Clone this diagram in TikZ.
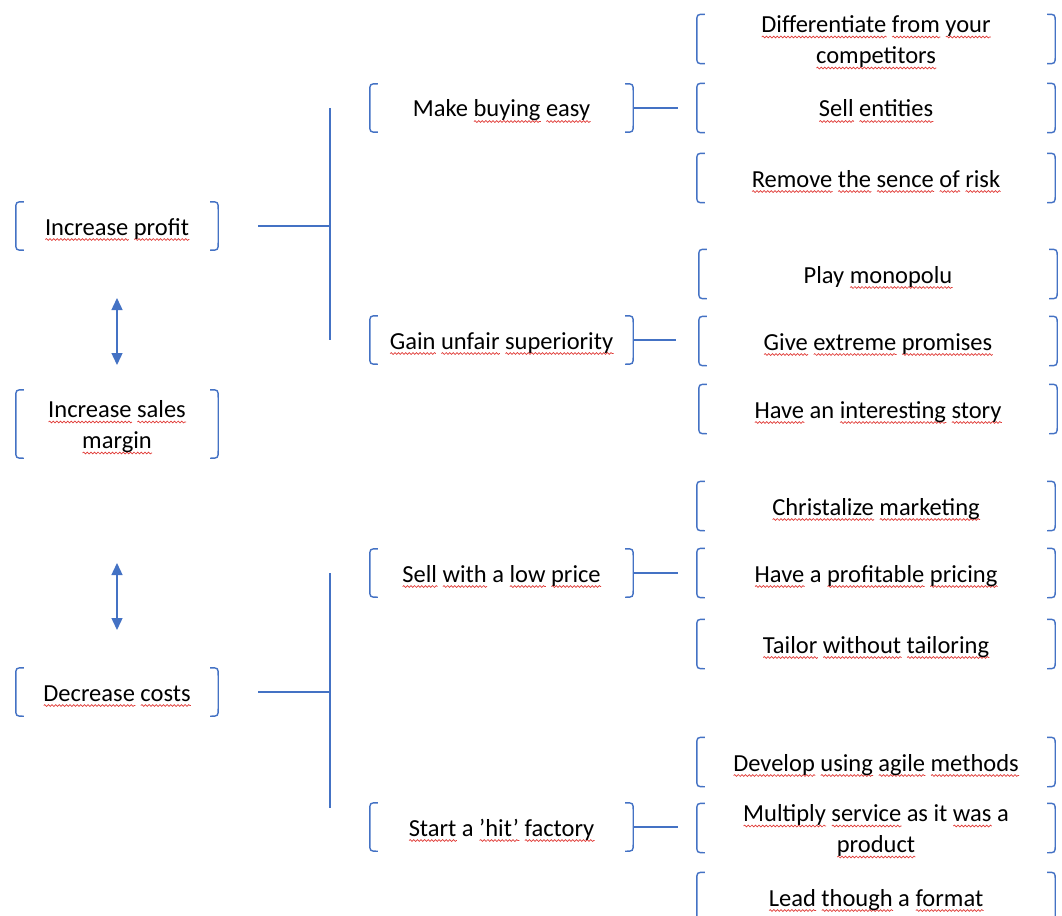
\documentclass[tikz,border=0pt]{standalone}
\usepackage{fontspec}
\setmainfont{Carlito}
\usetikzlibrary{arrows.meta,decorations.pathmorphing}
\definecolor{acc}{HTML}{4472C4}
\definecolor{sqred}{HTML}{E03A36}

% red wavy underline under a single word (spell-check squiggle)
\newsavebox\sqbox
\newlength\sqlen
\newcommand\sq[1]{%
  \sbox\sqbox{#1}\setlength\sqlen{\wd\sqbox}%
  \rlap{\raisebox{-4.5pt}{\tikz[baseline=0pt]\draw[sqred,line width=0.7pt,decorate,
      decoration={snake,amplitude=0.9pt,segment length=3.6pt}] (0pt,0pt)--(\sqlen,0pt);}}%
  \usebox\sqbox}

% fixed line strut so every label sits at the same height inside its brackets
\newcommand\linestrut{\rule[-6pt]{0pt}{30pt}}
% two centred lines, measured as if they were a single line of text
\newcommand\twolines[2]{%
  \raisebox{-15.5pt}[24pt][6pt]{\vbox{\baselineskip=31pt\lineskiplimit=-100pt
    \halign{\hfil##\hfil\cr #1\cr #2\cr}}}}

\tikzset{
  ln/.style={draw=acc, line width=1.3pt},
  brk/.style={draw=acc, line width=1.4pt},
  arr/.style={draw=acc, line width=1.4pt,
    {Triangle[length=12pt,width=11pt]}-{Triangle[length=12pt,width=11pt]}},
  itembox/.style={inner sep=0pt, align=center, minimum height=48pt,
    font=\fontsize{24.5}{31}\selectfont, text=black,
    execute at begin node=\linestrut, execute at end node=\linestrut},
  lvA/.style={itembox, minimum width=202pt},
  lvB/.style={itembox, minimum width=263pt},
  lvC/.style={itembox, minimum width=358pt, minimum height=49pt},
}

\begin{document}
\begin{tikzpicture}[x=1pt,y=-1pt]
\useasboundingbox (0,0) rectangle (1062,915);
\clip (0,0) rectangle (1062,915);

% first level
\node[lvA] (p1) at (117,226) {\sq{Increase} \sq{profit}};
\node[lvA, minimum height=68pt] (p2) at (117,424) {\twolines{\sq{Increase} \sq{sales}}{\sq{margin}}};
\node[lvA] (p3) at (117,692) {\sq{Decrease} \sq{costs}};

% second level
\node[lvB] (m1) at (501.5,108) {Make \sq{buying} \sq{easy}};
\node[lvB] (m2) at (501.5,340) {\sq{Gain} \sq{unfair} \sq{superiority}};
\node[lvB] (m3) at (501.5,573) {\sq{Sell} \sq{with} a \sq{low} \sq{price}};
\node[lvB] (m4) at (501.5,827) {\sq{Start} a \sq{’hit’} \sq{factory}};

% third level
\node[lvC] (c1)  at (876,39)  {\twolines{\sq{Differentiate} \sq{from} \sq{your}}{\sq{competitors}}};
\node[lvC] (c2)  at (876,108) {\sq{Sell} \sq{entities}};
\node[lvC] (c3)  at (876,178) {\sq{Remove} \sq{the} \sq{sence} \sq{of} \sq{risk}};
\node[lvC] (c4)  at (878,274) {Play \sq{monopolu}};
\node[lvC] (c5)  at (878,341) {\sq{Give} \sq{extreme} \sq{promises}};
\node[lvC] (c6)  at (878,409) {\sq{Have} an \sq{interesting} \sq{story}};
\node[lvC] (c7)  at (876,506) {\sq{Christalize} \sq{marketing}};
\node[lvC] (c8)  at (876,573) {\sq{Have} a \sq{profitable} \sq{pricing}};
\node[lvC] (c9)  at (876,644) {\sq{Tailor} \sq{without} \sq{tailoring}};
\node[lvC] (c10) at (876,762) {\sq{Develop} \sq{using} \sq{agile} \sq{methods}};
\node[lvC] (c11) at (876,828) {\twolines{\sq{Multiply} \sq{service} as it \sq{was} a}{\sq{product}}};
\node[lvC] (c12) at (876,897) {\sq{Lead} \sq{though} a \sq{format}};

% bracket pairs around every item
\foreach \n in {p1,p2,p3,m1,m2,m3,m4,c1,c2,c3,c4,c5,c6,c7,c8,c9,c10,c11,c12}{
  \draw[brk] ([xshift=8pt]\n.north west) .. controls (\n.north west) .. ([yshift=-8pt]\n.north west)
    -- ([yshift=8pt]\n.south west) .. controls (\n.south west) .. ([xshift=8pt]\n.south west);
  \draw[brk] ([xshift=-8pt]\n.north east) .. controls (\n.north east) .. ([yshift=-8pt]\n.north east)
    -- ([yshift=8pt]\n.south east) .. controls (\n.south east) .. ([xshift=-8pt]\n.south east);
}

% two-headed arrows between the first-level items
\coordinate (a1t) at (117,298);
\coordinate (a1b) at (117,365);
\coordinate (a2t) at (117,563);
\coordinate (a2b) at (117,630);
\draw[arr] (a1t) -- (a1b);
\draw[arr] (a2t) -- (a2b);

% branching from the first level to the second
\coordinate (j1) at (330,226);
\coordinate (j2) at (330,692);
\coordinate (v2) at (330,808);
\draw[ln] ([xshift=40pt]p1.east) -- (j1);
\draw[ln] (j1 |- m1) -- (j1 |- m2);
\draw[ln] ([xshift=40pt]p3.east) -- (j2);
\draw[ln] (j2 |- m3) -- (v2);

% links from the second level to the third
\draw[ln, shorten >=19pt] (m1.east) -- (m1.east -| c2.west);
\draw[ln, shorten >=23pt] (m2.east) -- (m2.east -| c5.west);
\draw[ln, shorten >=19pt] (m3.east) -- (m3.east -| c8.west);
\draw[ln, shorten >=19pt] (m4.east) -- (m4.east -| c11.west);
\end{tikzpicture}
\end{document}
